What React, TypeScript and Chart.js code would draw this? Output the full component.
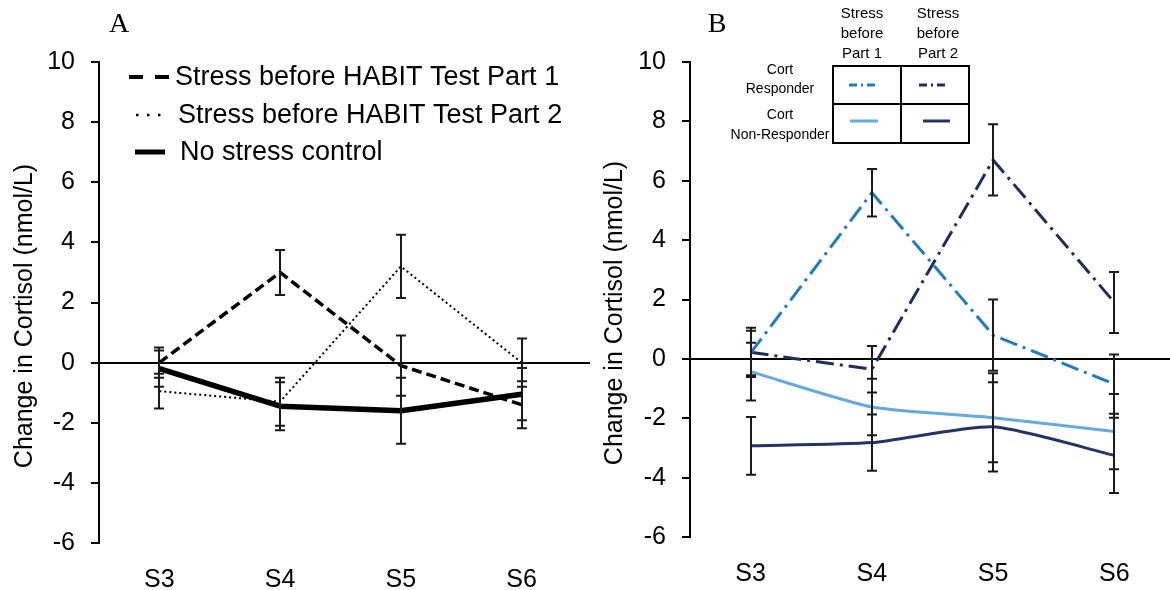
import React, { useEffect, useRef } from 'react';
import { Chart, registerables } from 'chart.js';

Chart.register(...registerables);

// ---------- data ----------
const categories = ['S3', 'S4', 'S5', 'S6'];
const yMin = -6;
const yMax = 10;
const yStep = 2;
const yTitle = 'Change in Cortisol (nmol/L)';

// Panel A
const aStressPart1 = [0.0, 3.0, -0.1, -1.4];
const aStressPart1Err = [0.5, 0.75, 1.0, 0.78];
const aStressPart2 = [-0.95, -1.3, 3.2, 0.0];
const aStressPart2Err = [0.58, 0.8, 1.05, 0.8];
const aControl = [-0.2, -1.45, -1.6, -1.05];
const aControlErr = [0.6, 0.8, 1.1, 0.87];
const legendA = ['Stress before HABIT Test Part 1', 'Stress before HABIT Test Part 2', 'No stress control'];

// Panel B
const bRespPart1 = [0.2, 5.6, 0.8, -0.85];
const bRespPart1Err = [0.75, 0.8, 1.2, 1.0];
const bRespPart2 = [0.22, -0.35, 6.7, 1.9];
const bRespPart2Err = [0.83, 0.78, 1.2, 1.03];
const bNonPart1 = [-0.43, -1.62, -1.98, -2.45];
const bNonPart1Err = [0.97, 0.95, 1.5, 1.27];
const bNonPart2 = [-2.93, -2.82, -2.29, -3.25];
const bNonPart2Err = [0.97, 0.95, 1.5, 1.27];
const legendBCols = [['Stress', 'before', 'Part 1'], ['Stress', 'before', 'Part 2']];
const legendBRows = [['Cort', 'Responder'], ['Cort', 'Non-Responder']];

// ---------- styling ----------
const FONT = '"Liberation Sans", Arial, sans-serif';
const SERIF = '"Liberation Serif", "Times New Roman", serif';
const C_RESP1 = '#1c7cc7';
const C_RESP2 = '#1f2c5f';
const C_NON1 = '#62abe3';
const C_NON2 = '#26336b';
const DASHDOT = [18, 6, 3, 6];

const errorBarPlugin = {
  id: 'errorBars',
  afterDatasetsDraw(chart: any) {
    const ctx = chart.ctx;
    const y = chart.scales.y;
    ctx.save();
    ctx.strokeStyle = '#1a1a1a';
    ctx.lineWidth = 2;
    ctx.setLineDash([]);
    chart.data.datasets.forEach((ds: any, i: number) => {
      const errs = ds.errorValues as number[] | undefined;
      if (!errs) return;
      const meta = chart.getDatasetMeta(i);
      meta.data.forEach((pt: any, j: number) => {
        const v = ds.data[j];
        const e = errs[j];
        const x = Math.round(pt.x);
        const yt = y.getPixelForValue(v + e);
        const yb = y.getPixelForValue(v - e);
        ctx.beginPath();
        ctx.moveTo(x, yt);
        ctx.lineTo(x, yb);
        ctx.moveTo(x - 5, yt);
        ctx.lineTo(x + 5, yt);
        ctx.moveTo(x - 5, yb);
        ctx.lineTo(x + 5, yb);
        ctx.stroke();
      });
    });
    ctx.restore();
  },
};

function drawRotatedTitle(ctx: CanvasRenderingContext2D, x: number, y: number) {
  ctx.save();
  ctx.translate(x, y);
  ctx.rotate(-Math.PI / 2);
  ctx.fillStyle = '#000';
  ctx.font = `25px ${FONT}`;
  ctx.textAlign = 'center';
  ctx.textBaseline = 'middle';
  ctx.fillText(yTitle, 0, 0);
  ctx.restore();
}

function drawLetter(ctx: CanvasRenderingContext2D, letter: string, x: number) {
  ctx.save();
  ctx.fillStyle = '#000';
  ctx.font = `28px ${SERIF}`;
  ctx.textAlign = 'center';
  ctx.textBaseline = 'alphabetic';
  ctx.fillText(letter, x, 32);
  ctx.restore();
}

function seg(ctx: CanvasRenderingContext2D, x1: number, y1: number, x2: number, y2: number) {
  ctx.beginPath();
  ctx.moveTo(x1, y1);
  ctx.lineTo(x2, y2);
  ctx.stroke();
}

function extendZeroLine(chart: any, toX: number) {
  const ctx: CanvasRenderingContext2D = chart.ctx;
  const y0 = Math.round(chart.scales.y.getPixelForValue(0));
  ctx.save();
  ctx.strokeStyle = '#000';
  ctx.lineWidth = 2;
  ctx.setLineDash([]);
  seg(ctx, chart.chartArea.right - 2, y0, toX, y0);
  ctx.restore();
}

const decorA = {
  id: 'decorA',
  afterDraw(chart: any) {
    const ctx: CanvasRenderingContext2D = chart.ctx;
    extendZeroLine(chart, 590);
    drawRotatedTitle(ctx, 25, 316);
    drawLetter(ctx, 'A', 119);
    ctx.save();
    ctx.strokeStyle = '#000';
    ctx.fillStyle = '#000';
    ctx.lineCap = 'butt';
    ctx.lineWidth = 4;
    ctx.setLineDash([14, 12]);
    seg(ctx, 129, 77, 171, 77);
    ctx.lineWidth = 2.5;
    ctx.setLineDash([2.5, 8.5]);
    seg(ctx, 136, 115, 162, 115);
    ctx.lineWidth = 5;
    ctx.setLineDash([]);
    seg(ctx, 135, 152, 165, 152);
    ctx.font = `27px ${FONT}`;
    ctx.textAlign = 'left';
    ctx.textBaseline = 'middle';
    ctx.fillText(legendA[0], 175, 78);
    ctx.fillText(legendA[1], 178, 116);
    ctx.fillText(legendA[2], 180, 153);
    ctx.restore();
  },
};

const decorB = {
  id: 'decorB',
  afterDraw(chart: any) {
    const ctx: CanvasRenderingContext2D = chart.ctx;
    drawRotatedTitle(ctx, 25, 313);
    drawLetter(ctx, 'B', 127);
    ctx.save();
    ctx.strokeStyle = '#000';
    ctx.fillStyle = '#000';
    ctx.lineWidth = 2;
    ctx.setLineDash([]);
    ctx.strokeRect(243, 66, 136, 77);
    seg(ctx, 311, 66, 311, 143);
    seg(ctx, 243, 104, 379, 104);
    ctx.textAlign = 'center';
    ctx.textBaseline = 'middle';
    ctx.font = `15px ${FONT}`;
    const colX = [272, 348];
    legendBCols.forEach((lines, ci) => {
      lines.forEach((t, li) => ctx.fillText(t, colX[ci], 14 + li * 20));
    });
    ctx.font = `14px ${FONT}`;
    const rowY = [[70, 89], [115, 135]];
    legendBRows.forEach((lines, ri) => {
      lines.forEach((t, li) => ctx.fillText(t, 190, rowY[ri][li]));
    });
    ctx.lineWidth = 3;
    ctx.setLineDash([8, 4, 2, 4]);
    ctx.strokeStyle = C_RESP1;
    seg(ctx, 259, 85, 289, 85);
    ctx.strokeStyle = C_RESP2;
    seg(ctx, 329, 85, 359, 85);
    ctx.setLineDash([]);
    ctx.strokeStyle = C_NON1;
    seg(ctx, 260, 121, 288, 121);
    ctx.strokeStyle = C_NON2;
    seg(ctx, 333, 121, 360, 121);
    ctx.restore();
  },
};

function makeConfig(datasets: any[], yW: number, xH: number, padR: number, decor: any) {
  return {
    type: 'line',
    data: { labels: categories, datasets },
    plugins: [errorBarPlugin, decor],
    options: {
      responsive: false,
      animation: false,
      devicePixelRatio: 1,
      layout: { padding: { top: 62, right: padR, bottom: 0, left: 0 } },
      plugins: { legend: { display: false }, tooltip: { enabled: false } },
      elements: { point: { radius: 0 } },
      scales: {
        x: {
          type: 'category',
          offset: true,
          grid: { display: false },
          border: { display: false },
          ticks: {
            color: '#000',
            font: { family: FONT, size: 25 },
            padding: 14,
            maxRotation: 0,
            autoSkip: false,
          },
          afterFit: (s: any) => {
            s.height = xH;
          },
        },
        y: {
          min: yMin,
          max: yMax,
          grid: {
            drawOnChartArea: true,
            drawTicks: true,
            tickLength: 8,
            lineWidth: 2,
            tickColor: '#000',
            color: (c: any) => (c.tick && c.tick.value === 0 ? '#000' : 'rgba(0,0,0,0)'),
          },
          border: { display: true, color: '#000', width: 2 },
          ticks: {
            stepSize: yStep,
            color: '#000',
            font: { family: FONT, size: 25 },
            padding: 16,
          },
          afterFit: (s: any) => {
            s.width = yW;
          },
        },
      },
    },
  };
}

function line(data: number[], err: number[], color: string, width: number, dash: number[], tension = 0) {
  return {
    data,
    errorValues: err,
    borderColor: color,
    backgroundColor: color,
    borderWidth: width,
    borderDash: dash,
    tension,
    fill: false,
    pointRadius: 0,
    borderJoinStyle: 'round',
  };
}

function Panel({ left, build }: { left: number; build: () => any }) {
  const ref = useRef<HTMLCanvasElement>(null);
  useEffect(() => {
    const chart = new Chart(ref.current as HTMLCanvasElement, build());
    return () => chart.destroy();
  }, []);
  return (
    <canvas
      ref={ref}
      width={590}
      height={590}
      style={{ position: 'absolute', left, top: 0, width: 590, height: 590 }}
    />
  );
}

const buildA = () =>
  makeConfig(
    [
      line(aControl, aControlErr, '#000', 5.5, []),
      line(aStressPart1, aStressPart1Err, '#000', 3.5, [10, 5]),
      line(aStressPart2, aStressPart2Err, '#000', 2, [2, 3]),
    ],
    99,
    47,
    8,
    decorA
  );

const buildB = () =>
  makeConfig(
    [
      line(bRespPart1, bRespPart1Err, C_RESP1, 3, DASHDOT),
      line(bRespPart2, bRespPart2Err, C_RESP2, 3, DASHDOT),
      line(bNonPart1, bNonPart1Err, C_NON1, 3, [], 0.2),
      line(bNonPart2, bNonPart2Err, C_NON2, 3, [], 0.2),
    ],
    100,
    53,
    5,
    decorB
  );

export default function App() {
  return (
    <div
      style={{
        position: 'fixed',
        left: 0,
        top: 0,
        width: 1170,
        height: 590,
        overflow: 'hidden',
        background: '#fff',
      }}
    >
      <Panel left={0} build={buildA} />
      <Panel left={590} build={buildB} />
    </div>
  );
}
